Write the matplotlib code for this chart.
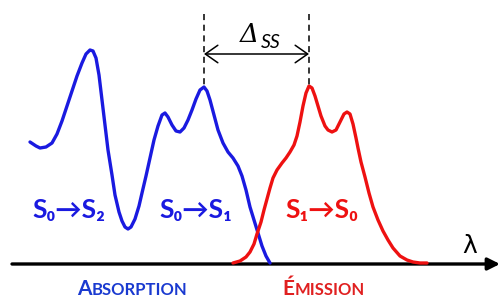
import matplotlib.pyplot as plt
from matplotlib.patches import FancyArrowPatch

# absorption spectrum (blue), x = wavelength position, y = height in picture units
abs_x = [30, 36, 40, 46, 52, 57, 62, 67, 72, 77, 82, 86, 90, 93, 96, 99, 102, 105, 108,
         112, 115, 119, 122, 125, 128, 131, 135, 139, 142, 146, 150, 154, 158, 162, 165,
         168, 172, 176, 180, 184, 188, 192, 196, 200, 204, 207, 210, 214, 218, 223, 228,
         233, 238, 242, 246, 250, 254, 258, 262, 266, 270]
abs_y = [142, 146, 148, 147, 143, 134, 121, 106, 91, 76, 63, 54, 50, 51, 58, 75, 100, 125, 150,
         175, 195, 212, 221, 227, 229, 227, 219, 206, 193, 176, 158, 140, 126, 115, 113,
         117, 125, 131, 132, 128, 120, 110, 99, 90, 87, 91, 100, 115, 130, 143, 152,
         158, 166, 176, 190, 207, 220, 233, 246, 256, 263]

# emission spectrum (red)
emi_x = [233, 240, 246, 250, 254, 257, 261, 264, 267, 270, 273, 277, 282, 286, 290, 294, 297,
         300, 303, 306, 309, 312, 315, 318, 321, 325, 328, 332, 336, 340, 344, 347, 350,
         353, 356, 358, 361, 365, 369, 373, 378, 383, 388, 393, 400, 407, 413, 420, 427]
emi_y = [263, 261, 257, 252, 244, 234, 222, 210, 199, 188, 178, 170, 163, 158, 152, 145, 136,
         122, 106, 93, 86, 88, 96, 106, 116, 126, 130, 132, 130, 122, 114, 112, 114,
         124, 138, 148, 162, 177, 193, 207, 220, 231, 240, 248, 256, 260, 262, 263, 263]

peak_abs = 204
peak_emi = 309
axis_y = 264

blue = '#1a1ae0'
red = '#ee1111'

fig = plt.figure(figsize=(5, 2.98), dpi=100)
ax = fig.add_axes([0, 0, 1, 1])
ax.set_xlim(0, 500)
ax.set_ylim(298, 0)
ax.axis('off')

ax.plot(abs_x, abs_y, color=blue, lw=2.4, solid_joinstyle='round', solid_capstyle='round')
ax.plot(emi_x, emi_y, color=red, lw=2.4, solid_joinstyle='round', solid_capstyle='round')

# wavelength axis
ax.add_patch(FancyArrowPatch((12, axis_y), (500, axis_y), arrowstyle='-|>',
                             mutation_scale=18, lw=2.4, color='black', shrinkA=0, shrinkB=0))
ax.text(470, 246, 'λ', fontsize=18, ha='center', va='center', family='DejaVu Sans')

# Stokes shift marker
ax.plot([peak_abs, peak_abs], [14, 86], color='black', lw=1.1, ls=(0, (4, 3)))
ax.plot([peak_emi, peak_emi], [14, 85], color='black', lw=1.1, ls=(0, (4, 3)))
ax.add_patch(FancyArrowPatch((peak_abs, 54), (peak_emi, 54), arrowstyle='<->,head_length=0.5,head_width=0.35',
                             mutation_scale=18, lw=1.1, color='black', shrinkA=0, shrinkB=0))
ax.text(249, 42, 'Δ', fontsize=19, style='italic', ha='center', va='baseline', family='DejaVu Serif')
ax.text(261, 48, 'SS', fontsize=14, style='italic', ha='left', va='baseline', family='Lato')

fam = ['Lato', 'DejaVu Sans']
ax.text(69, 210, 'S₀→S₂', color=blue, fontsize=19, fontweight='bold', ha='center', va='center', family=fam)
ax.text(196, 210, 'S₀→S₁', color=blue, fontsize=19, fontweight='bold', ha='center', va='center', family=fam)
ax.text(322, 210, 'S₁→S₀', color=red, fontsize=19, fontweight='bold', ha='center', va='center', family=fam)

# small caps labels
fig.canvas.draw()
r = fig.canvas.get_renderer()


def small_caps(x, y, big, rest, color):
    t = ax.text(x, y, big, color=color, fontsize=15, fontweight='bold', family=fam, va='baseline')
    bb = t.get_window_extent(renderer=r)
    x2 = ax.transData.inverted().transform((bb.x1, bb.y0))[0]
    ax.text(x2 + 0.5, y, rest, color=color, fontsize=12, fontweight='bold', family=fam, va='baseline')


small_caps(77, 295, 'A', 'BSORPTION', '#1a3ad0')
small_caps(282, 295, 'É', 'MISSION', '#e02020')

fig.savefig('out.png', dpi=100)
